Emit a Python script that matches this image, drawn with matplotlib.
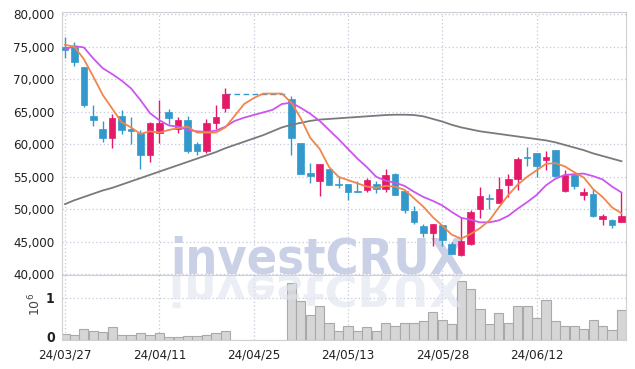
import numpy as np
import matplotlib
matplotlib.use('Agg')
import matplotlib.pyplot as plt
from matplotlib.patches import Rectangle, PathPatch
from matplotlib.textpath import TextPath
from matplotlib.font_manager import FontProperties, fontManager
from matplotlib.transforms import Affine2D, ScaledTranslation

nan = np.nan

tick_pos = [0, 10, 20, 30, 40, 50]
tick_labels = ['24/03/27', '24/04/11', '24/04/25', '24/05/13', '24/05/28', '24/06/12']

opens = [74900, 75000, 71900, 64400, 62300, 61000, 64400, 62300, 61700, 58300,
         61700, 65000, 62300, 63800, 60000, 59000, 63200, 65600, nan, nan,
         nan, nan, nan, nan, 67000, 60200, 55600, 54300, 56200, 53900,
         53900, 52700, 52900, 53900, 53100, 55500, 52800, 49700, 47400, 46300,
         47600, 44700, 42900, 44600, 50000, 51700, 51000, 53800, 54600, 58000,
         58700, 57600, 59100, 52800, 55300, 52200, 52300, 48500, 48400, 48000]
highs = [76500, 75700, 71900, 66100, 63600, 64600, 65200, 64200, 62200, 63400,
         66800, 65400, 64200, 64400, 60400, 63900, 66100, 68700, nan, nan,
         nan, nan, nan, nan, 67500, 60200, 57100, 57000, 56200, 54900,
         53900, 54400, 54800, 54400, 56200, 55600, 52800, 50500, 47700, 47800,
         47600, 45000, 48800, 49900, 53500, 52400, 54900, 55400, 58100, 59600,
         58700, 58900, 59200, 56000, 55300, 53300, 53200, 49300, 48500, 52600]
lows = [73200, 72100, 65700, 62800, 60300, 59400, 61600, 60000, 56200, 57300,
        60200, 63100, 61800, 58700, 58400, 58700, 62400, 65000, nan, nan,
        nan, nan, nan, nan, 58400, 55500, 54100, 52100, 53800, 53300,
        51500, 52600, 52600, 52500, 52600, 52200, 49400, 47800, 45800, 44300,
        44300, 43100, 42800, 44500, 48600, 50100, 50900, 51900, 52900, 56700,
        55000, 56000, 55000, 52700, 53100, 51500, 48800, 47600, 47200, 48000]
closes = [74500, 72700, 66000, 63800, 61000, 64100, 62200, 62100, 58300, 63300,
          63300, 64000, 63800, 59000, 58900, 63300, 64200, 67800, nan, nan,
          nan, nan, nan, nan, 61000, 55500, 55100, 57000, 53800, 53800,
          52600, 52600, 54500, 53100, 55300, 52200, 49900, 48100, 46300, 47700,
          45300, 43200, 45200, 49600, 52000, 51600, 53200, 54600, 57700, 57900,
          56600, 58000, 55100, 55300, 53600, 52700, 48900, 48900, 47600, 48900]
volumes = [0.13, 0.11, 0.27, 0.21, 0.19, 0.30, 0.11, 0.11, 0.16, 0.11,
           0.16, 0.06, 0.06, 0.086, 0.086, 0.11, 0.16, 0.21, nan, nan,
           nan, nan, nan, nan, 1.33, 0.91, 0.58, 0.81, 0.39, 0.21,
           0.32, 0.21, 0.30, 0.21, 0.41, 0.32, 0.39, 0.41, 0.44, 0.65,
           0.48, 0.37, 1.40, 1.19, 0.74, 0.37, 0.63, 0.41, 0.79, 0.81,
           0.51, 0.95, 0.44, 0.32, 0.32, 0.25, 0.48, 0.34, 0.23, 0.70]
ma5 = [75300, 75000, 73100, 70400, 67600, 65500, 63400, 62600, 61600, 62000,
       61800, 62200, 62500, 62700, 61800, 61800, 61800, 62600, 64400, 66200,
       67100, 67800, 67800, 67800, 66400, 64000, 61000, 59300, 56500, 55000,
       54500, 54000, 53500, 53300, 53600, 53500, 53000, 51700, 50400, 48800,
       47500, 46100, 45500, 46200, 47100, 48300, 50300, 52200, 53800, 55000,
       56000, 57000, 57100, 56600, 55700, 54900, 53100, 51900, 50300, 49400]
ma10 = [74600, 75100, 74900, 73200, 71700, 70800, 69800, 68600, 66800, 64800,
        63700, 62900, 62700, 62200, 62000, 61900, 62100, 62700, 63600, 64100,
        64500, 64900, 65300, 66200, 66400, 65600, 64700, 63600, 62200, 60800,
        59300, 57800, 56500, 55000, 54400, 54100, 53600, 52700, 51900, 51300,
        50600, 49600, 48700, 48400, 48000, 48000, 48300, 49000, 50100, 51100,
        52200, 53700, 54700, 55300, 55400, 55500, 55100, 54600, 53500, 52600]
ma_long = [50800, 51400, 51900, 52400, 52900, 53300, 53800, 54300, 54800, 55300,
           55800, 56300, 56800, 57300, 57800, 58300, 58800, 59400, 59900, 60400,
           60900, 61400, 62000, 62600, 63000, 63300, 63600, 63800, 63900, 64000,
           64100, 64200, 64300, 64400, 64500, 64550, 64550, 64500, 64300, 63900,
           63500, 63000, 62600, 62300, 62000, 61800, 61600, 61400, 61200, 61000,
           60800, 60600, 60300, 59900, 59500, 59100, 58600, 58200, 57800, 57400]

UP = '#e41a68'
DOWN = '#3399cc'
ORANGE = '#f0864c'
PURPLE = '#cc55ee'
GRAY = '#7a7a7a'
GRID = '#c3c8da'
SPINE = '#d0d0d0'
TXT = '#222222'

W, H = 635, 369
fig = plt.figure(figsize=(W / 100, H / 100), dpi=100)
fig.patch.set_facecolor('white')

def fx(px):
    return px / W

def fy(py):
    return 1 - py / H

ax = fig.add_axes([fx(61.7), fy(275), fx(625.7) - fx(61.7), fy(12.3) - fy(275)])
axv = fig.add_axes([fx(61.7), fy(340), fx(625.7) - fx(61.7), fy(275) - fy(340)])

tick_fp = FontProperties(family='DejaVu Sans', stretch='condensed', size=9.5)

n = len(opens)
xs = np.arange(n)

# watermark
names = {f.name for f in fontManager.ttflist}
if 'Liberation Sans Narrow' in names:
    wm_fp = FontProperties(family='Liberation Sans Narrow', weight='bold', size=41)
else:
    wm_fp = FontProperties(family='DejaVu Sans', stretch='condensed', weight='bold', size=36)
wm_cx, wm_base = 317.5, 273
ax.text(fx(wm_cx), fy(wm_base), 'investCRUX', transform=fig.transFigure,
        ha='center', va='baseline', fontproperties=wm_fp, color='#cad1e7',
        zorder=1.5, clip_on=False)
tp = TextPath((0, 0), 'investCRUX', prop=wm_fp, size=wm_fp.get_size_in_points())
ext = tp.get_extents()
cx_pts = (ext.x0 + ext.x1) / 2
trans = (Affine2D().translate(-cx_pts, 0).scale(1 / 72, -0.85 / 72)
         .translate(wm_cx / 100, (H - wm_base - 3) / 100) + fig.dpi_scale_trans)
refl = PathPatch(tp, facecolor='#dfe3ef', edgecolor='none', alpha=0.6,
                 transform=trans, zorder=4)
axv.add_patch(refl)

# candles
for i in range(n):
    o, h, l, c = opens[i], highs[i], lows[i], closes[i]
    if np.isnan(o):
        continue
    col = UP if c >= o else DOWN
    ax.vlines(i, l, h, color=col, lw=1.0, zorder=3)
    bot = min(o, c)
    ht = max(abs(c - o), 150)
    ax.add_patch(Rectangle((i - 0.35, bot), 0.7, ht, facecolor=col,
                           edgecolor=col, lw=0.5, zorder=3.2))

# gap connector
last_valid = 17
next_valid = 24
ax.plot([last_valid, next_valid - 0.35], [closes[last_valid]] * 2, color=DOWN,
        lw=1.0, ls=(0, (4, 2.5)), zorder=2.5)

ax.plot(xs, ma_long, color=GRAY, lw=1.3, zorder=4)
ax.plot(xs, ma10, color=PURPLE, lw=1.3, zorder=4.2)
ax.plot(xs, ma5, color=ORANGE, lw=1.3, zorder=4.4)

ax.set_xlim(-0.35, 59.45)
ax.set_ylim(39900, 80300)
yt = list(range(40000, 80001, 5000))
ax.set_yticks(yt)
ax.set_yticklabels([f'{v:,}' for v in yt], fontproperties=tick_fp, color=TXT)
ax.set_xticks(tick_pos)
ax.set_xticklabels([])
ax.tick_params(axis='both', length=0, pad=5)
ax.grid(True, color=GRID, lw=0.9, ls=(0, (1, 2)))
ax.set_axisbelow(True)
for s in ax.spines.values():
    s.set_color(SPINE)

# volume
vol = np.array(volumes)
mask = ~np.isnan(vol)
axv.bar(xs[mask], vol[mask], width=0.98, color='#d6d6d6', edgecolor='#a9a9a9',
        lw=0.8, zorder=2)
axv.set_xlim(-0.35, 59.45)
axv.set_ylim(0, 1.53)
axv.set_yticks([0, 1])
axv.set_yticklabels(['0', '1'], fontproperties=FontProperties(family='DejaVu Sans', stretch='condensed', weight='bold', size=10), color=TXT)
axv.set_xticks(tick_pos)
axv.set_xticklabels(tick_labels, fontproperties=tick_fp, color=TXT)
axv.tick_params(axis='y', length=0, pad=5)
axv.tick_params(axis='x', length=0, pad=6)
axv.grid(True, color=GRID, lw=0.9, ls=(0, (1, 2)))
axv.set_axisbelow(True)
for s in axv.spines.values():
    s.set_color(SPINE)
zero_lbl = axv.get_yticklabels()[0]
zero_lbl.set_transform(zero_lbl.get_transform() + ScaledTranslation(0, 3 / 100, fig.dpi_scale_trans))
fig.text(fx(35), fy(304), r'$10^6$', rotation=90, ha='center', va='center',
         fontsize=9, color='#444444')

fig.savefig('out.png', dpi=100)
